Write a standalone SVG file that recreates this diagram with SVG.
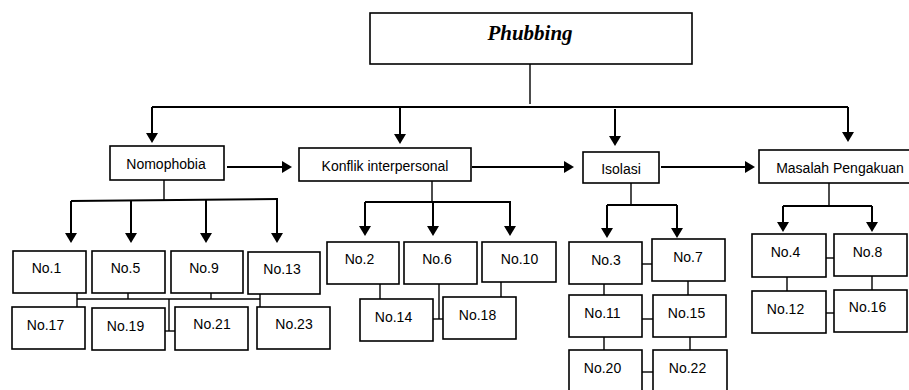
<svg xmlns="http://www.w3.org/2000/svg" width="909" height="390" viewBox="0 0 909 390">
<style>
.box{fill:#fff;stroke:#000;stroke-width:1.6}
.t{font-family:"Liberation Sans",Arial,sans-serif;font-size:14px;fill:#000;text-anchor:middle}
.title{font-family:"Liberation Serif","Times New Roman",serif;font-size:21px;font-weight:bold;font-style:italic;fill:#000;text-anchor:middle}
.arr{stroke:#000;stroke-width:2;fill:none;marker-end:url(#ah)}
.ln{stroke:#000;stroke-width:2;fill:none}
.thin{stroke:#000;stroke-width:1.4;fill:none}
</style>
<defs>
<marker id="ah" markerUnits="userSpaceOnUse" viewBox="0 0 10 12" markerWidth="10" markerHeight="12" refX="7" refY="6" orient="auto">
<path d="M0,0 L10,6 L0,12 z" fill="#000"/>
</marker>
</defs>
<rect width="909" height="390" fill="#fff"/>
<g id="connectors">
<line class="thin" x1="530" y1="64" x2="530" y2="104"/>
<line class="ln" x1="152" y1="107" x2="848" y2="107"/>
<line class="arr" x1="152" y1="107" x2="152" y2="140"/>
<line class="arr" x1="400" y1="107" x2="400" y2="141"/>
<line class="arr" x1="615" y1="109" x2="615" y2="143"/>
<line class="arr" x1="848" y1="107" x2="848" y2="139"/>
<line class="arr" x1="227" y1="167" x2="289" y2="167"/>
<line class="arr" x1="472" y1="167" x2="571" y2="167"/>
<line class="arr" x1="661" y1="167" x2="752" y2="167"/>
<!-- Nomophobia -->
<line class="thin" x1="164" y1="180" x2="164" y2="200"/>
<line class="ln" x1="71" y1="201" x2="278" y2="199"/>
<line class="arr" x1="71" y1="201" x2="71" y2="240"/>
<line class="arr" x1="131" y1="200" x2="131" y2="240"/>
<line class="arr" x1="206" y1="200" x2="206" y2="240"/>
<line class="arr" x1="277" y1="199" x2="277" y2="240"/>
<line class="thin" x1="77" y1="299" x2="260" y2="299"/>
<line class="thin" x1="77" y1="293" x2="77" y2="307"/>
<line class="thin" x1="128" y1="293" x2="128" y2="299"/>
<line class="thin" x1="211" y1="293" x2="211" y2="299"/>
<line class="thin" x1="260" y1="294" x2="260" y2="307"/>
<line class="thin" x1="169" y1="299" x2="169" y2="331"/>
<line class="thin" x1="165" y1="331" x2="175" y2="331"/>
<!-- Konflik -->
<line class="thin" x1="432" y1="181" x2="432" y2="202"/>
<line class="ln" x1="365" y1="202" x2="511" y2="202"/>
<line class="arr" x1="365" y1="202" x2="365" y2="233"/>
<line class="arr" x1="433" y1="202" x2="433" y2="233"/>
<line class="arr" x1="510" y1="202" x2="510" y2="233"/>
<line class="thin" x1="380" y1="284" x2="380" y2="299"/>
<line class="thin" x1="439" y1="284" x2="439" y2="319"/>
<line class="thin" x1="433" y1="319" x2="443" y2="319"/>
<line class="thin" x1="501" y1="282" x2="501" y2="297"/>
<!-- Isolasi -->
<line class="thin" x1="631" y1="183" x2="631" y2="205"/>
<line class="ln" x1="607" y1="205" x2="677" y2="205"/>
<line class="arr" x1="607" y1="205" x2="607" y2="235"/>
<line class="arr" x1="677" y1="205" x2="677" y2="235"/>
<line class="thin" x1="642" y1="264" x2="652" y2="264"/>
<line class="thin" x1="642" y1="319" x2="653" y2="319"/>
<line class="thin" x1="642" y1="372" x2="653" y2="372"/>
<line class="thin" x1="604" y1="284" x2="604" y2="295"/>
<line class="thin" x1="688" y1="281" x2="688" y2="295"/>
<line class="thin" x1="604" y1="337" x2="604" y2="350"/>
<line class="thin" x1="690" y1="337" x2="690" y2="350"/>
<!-- Masalah -->
<line class="thin" x1="829" y1="183" x2="829" y2="206"/>
<line class="ln" x1="783" y1="206" x2="872" y2="206"/>
<line class="arr" x1="783" y1="206" x2="783" y2="229"/>
<line class="arr" x1="872" y1="206" x2="872" y2="229"/>
<line class="thin" x1="826" y1="258" x2="834" y2="258"/>
<line class="thin" x1="826" y1="313" x2="834" y2="313"/>
<line class="thin" x1="787" y1="277" x2="787" y2="291"/>
<line class="thin" x1="872" y1="276" x2="872" y2="290"/>
</g>
<g id="phubbing"><rect class="box" x="370" y="13" width="322" height="51"/><text class="title" x="530" y="40">Phubbing</text></g>
<g id="nomophobia"><rect class="box" x="110" y="146" width="114" height="34"/><text class="t" x="166" y="169">Nomophobia</text></g>
<g id="konflik"><rect class="box" x="299" y="148" width="172" height="33"/><text class="t" x="385" y="171">Konflik interpersonal</text></g>
<g id="isolasi"><rect class="box" x="583" y="152" width="76" height="31"/><text class="t" x="621" y="174">Isolasi</text></g>
<g id="masalah"><rect class="box" x="759" y="150" width="153" height="33"/><text class="t" x="840" y="173">Masalah Pengakuan</text></g>
<g id="no1"><rect class="box" x="13" y="251" width="73" height="42"/><text class="t" x="46.5" y="273">No.1</text></g>
<g id="no5"><rect class="box" x="92" y="251" width="73" height="42"/><text class="t" x="125.5" y="273">No.5</text></g>
<g id="no9"><rect class="box" x="171" y="251" width="72" height="42"/><text class="t" x="204" y="273">No.9</text></g>
<g id="no13"><rect class="box" x="248" y="252" width="72" height="42"/><text class="t" x="282" y="274">No.13</text></g>
<g id="no17"><rect class="box" x="12" y="307" width="73" height="42"/><text class="t" x="45.5" y="330">No.17</text></g>
<g id="no19"><rect class="box" x="92" y="308" width="73" height="42"/><text class="t" x="125.5" y="331">No.19</text></g>
<g id="no21"><rect class="box" x="175" y="307" width="73" height="43"/><text class="t" x="212" y="329">No.21</text></g>
<g id="no23"><rect class="box" x="257" y="307" width="73" height="42"/><text class="t" x="294" y="329">No.23</text></g>
<g id="no2"><rect class="box" x="327" y="242" width="72" height="42"/><text class="t" x="359.5" y="264">No.2</text></g>
<g id="no6"><rect class="box" x="404" y="242" width="73" height="42"/><text class="t" x="437" y="264">No.6</text></g>
<g id="no10"><rect class="box" x="482" y="242" width="74" height="40"/><text class="t" x="519.5" y="264">No.10</text></g>
<g id="no14"><rect class="box" x="360" y="299" width="73" height="42"/><text class="t" x="393.5" y="322">No.14</text></g>
<g id="no18"><rect class="box" x="443" y="297" width="73" height="42"/><text class="t" x="477.5" y="320">No.18</text></g>
<g id="no3"><rect class="box" x="569" y="242" width="73" height="42"/><text class="t" x="606" y="265">No.3</text></g>
<g id="no7"><rect class="box" x="652" y="239" width="73" height="42"/><text class="t" x="688" y="262">No.7</text></g>
<g id="no11"><rect class="box" x="569" y="295" width="73" height="42"/><text class="t" x="602.5" y="318">No.11</text></g>
<g id="no15"><rect class="box" x="653" y="295" width="73" height="42"/><text class="t" x="686.5" y="318">No.15</text></g>
<g id="no20"><rect class="box" x="569" y="350" width="73" height="50"/><text class="t" x="602.5" y="373">No.20</text></g>
<g id="no22"><rect class="box" x="653" y="350" width="74" height="50"/><text class="t" x="687.5" y="373">No.22</text></g>
<g id="no4"><rect class="box" x="752" y="234" width="74" height="43"/><text class="t" x="785.5" y="257">No.4</text></g>
<g id="no8"><rect class="box" x="834" y="234" width="73" height="42"/><text class="t" x="867.5" y="257">No.8</text></g>
<g id="no12"><rect class="box" x="752" y="291" width="74" height="42"/><text class="t" x="785.5" y="314">No.12</text></g>
<g id="no16"><rect class="box" x="834" y="290" width="73" height="42"/><text class="t" x="867.5" y="312">No.16</text></g>
</svg>
